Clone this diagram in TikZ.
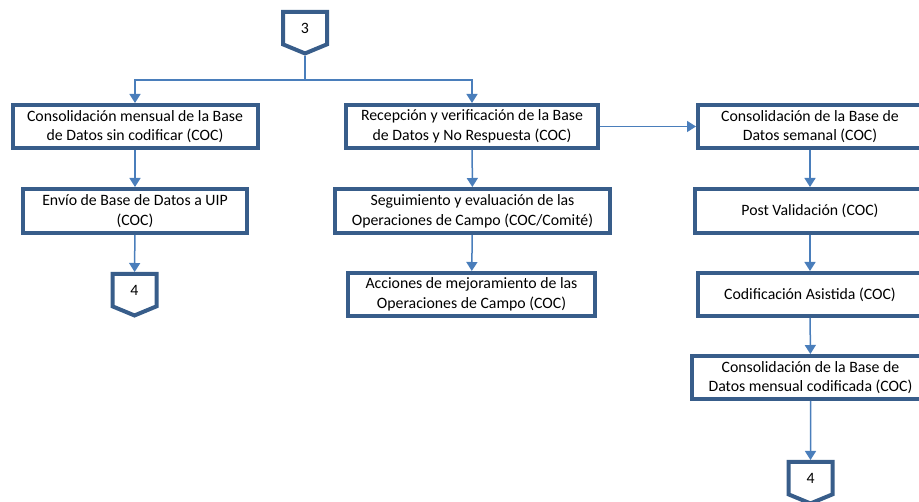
\documentclass[tikz,border=0pt]{standalone}
\usepackage{fontspec}
\setmainfont{Carlito}
\usetikzlibrary{arrows.meta}
\usetikzlibrary{shapes.symbols}
\definecolor{boxBlue}{HTML}{385D8A}
\definecolor{lineBlue}{HTML}{4A7EBB}

\begin{document}
\begin{tikzpicture}[x=1pt,y=-1pt]
\tikzset{
    stepBox/.style={
                   draw=boxBlue,
                   line width=4pt,
                   align=center,
                   inner sep=0pt,
                   minimum height=43pt,
                   font=\fontsize{15.8}{19.6}\selectfont
    },
    twoLines/.style={
                   stepBox,
                   execute at begin node={\rule{0pt}{20pt}}
    },
    pageLink/.style={
                   signal,
                   signal to=south,
                   signal pointer angle=135,
                   draw=boxBlue,
                   line width=4pt,
                   inner sep=0pt,
                   minimum width=44pt,
                   minimum height=34pt,
                   anchor=north,
                   font=\fontsize{15.8}{20}\selectfont
    },
    flow/.style={
                   -{Triangle[length=9pt,width=11pt]},
                   draw=lineBlue,
                   line width=1.5pt
    }
}
\useasboundingbox (0,0) rectangle (919,502);

    \node (P3)[pageLink] at (305,10) {3};
    \coordinate (split) at (305,80);

    \node (A1)[twoLines, minimum width=245pt] at (135,126.5) {Consolidación mensual de la Base\\de Datos sin codificar (COC)};
    \node (A2)[twoLines, minimum width=224pt, minimum height=44pt] at (135,211) {Envío de Base de Datos a UIP\\(COC)};
    \node (P4a)[pageLink] at (134.5,272) {4};

    \node (B1)[twoLines, minimum width=252pt] at (472,126.5) {Recepción y verificación de la Base\\de Datos y No Respuesta (COC)};
    \node (B2)[twoLines, minimum width=275pt, minimum height=44pt] at (472.5,211) {Seguimiento y evaluación de las\\Operaciones de Campo (COC/Comité)};
    \node (B3)[twoLines, minimum width=247pt] at (471.5,294.5) {Acciones de mejoramiento de las\\Operaciones de Campo (COC)};

    \node (C1)[twoLines, minimum width=224pt] at (810,126.5) {Consolidación de la Base de\\Datos semanal (COC)};
    \node (C2)[stepBox, minimum width=230pt, minimum height=44pt] at (810,211) {Post Validación (COC)};
    \node (C3)[stepBox, minimum width=224pt] at (810,294.5) {Codificación Asistida (COC)};
    \node (C4)[twoLines, minimum width=238pt] at (810.5,377.5) {Consolidación de la Base de\\Datos mensual codificada (COC)};
    \node (P4b)[pageLink] at (810.5,460) {4};

    \draw[draw=lineBlue, line width=1.5pt] (P3.south) -- (split);
    \draw[flow] (split) -| (A1.north);
    \draw[flow] (split) -| (B1.north);
    \draw[flow] (A1) -- (A2);
    \draw[flow] (A2) -- (P4a);
    \draw[flow] (B1) -- (B2);
    \draw[flow] (B2) -- (B3);
    \draw[flow] (B1) -- (C1);
    \draw[flow] (C1) -- (C2);
    \draw[flow] (C2) -- (C3);
    \draw[flow] (C3) -- (C4);
    \draw[flow] (C4) -- (P4b);

\end{tikzpicture}
\end{document}
